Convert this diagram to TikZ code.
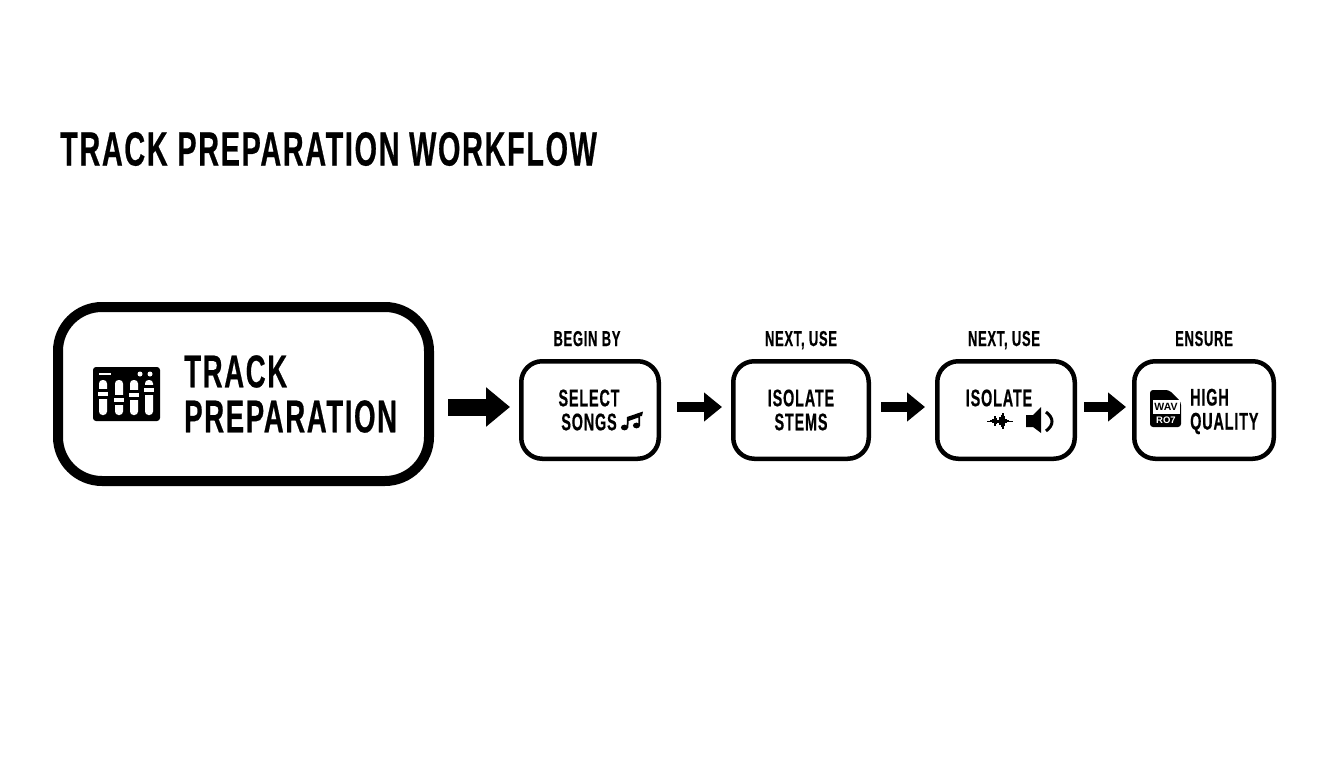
\documentclass[tikz,border=0pt]{standalone}
\usepackage{fontspec}
\usetikzlibrary{arrows.meta}
\newfontfamily\condfont[FakeStretch=0.6,LetterSpace=3.5,BoldFeatures={FakeBold=0.5}]{Liberation Sans}
\tikzset{
  bigbox/.style={draw=black,fill=white,line width=10pt,rounded corners=44pt,minimum width=371pt,minimum height=174pt,inner sep=0pt},
  stepbox/.style={draw=black,fill=white,line width=4.5pt,rounded corners=21pt,minimum height=97.5pt,inner sep=0pt},
  blockarrow/.style={-{Triangle[length=18pt,width=28pt]},line width=10pt,black},
  bigarrow/.style={-{Triangle[length=24pt,width=38pt]},line width=17pt,black},
  titletext/.style={font=\condfont\bfseries\fontsize{48}{50}\selectfont,anchor=west,inner sep=0pt},
  bigtext/.style={font=\condfont\bfseries\fontsize{46}{45}\selectfont,anchor=west,align=left,inner sep=0pt},
  boxtext/.style={font=\condfont\bfseries\fontsize{24}{24}\selectfont,align=center,inner sep=0pt},
  toptext/.style={font=\condfont\bfseries\fontsize{21.5}{22}\selectfont,anchor=base,inner sep=0pt},
}
\begin{document}
\begin{tikzpicture}[x=1pt,y=-1pt]
    \useasboundingbox (0,0) rectangle (1344,768);

    \node[titletext] (title) at (60,149) {TRACK PREPARATION WORKFLOW};

    \node[bigbox] (track) at (243.5,394) {};
    \node[stepbox,minimum width=137.5pt] (songs) at (590,410) {};
    \node[stepbox,minimum width=135.5pt] (stems) at (801,410) {};
    \node[stepbox,minimum width=137.5pt] (sound) at (1006,410) {};
    \node[stepbox,minimum width=139.5pt] (quality) at (1204,410) {};

    \node[toptext] (begin) at (587,346) {BEGIN BY};
    \node[toptext] (next1) at (801,346) {NEXT, USE};
    \node[toptext] (next2) at (1004,346) {NEXT, USE};
    \node[toptext] (ensure) at (1204,346) {ENSURE};

    \node[bigtext] (tracktext) at (184,394) {TRACK\\PREPARATION};
    \node[boxtext] (songstext) at (589,410) {SELECT\\SONGS};
    \node[boxtext] (stemstext) at (801,410) {ISOLATE\\STEMS};
    \node[boxtext] (soundtext) at (999,398) {ISOLATE};
    \node[boxtext,anchor=west,align=left] (qualitytext) at (1190,411.5) {HIGH\\QUALITY};

    \coordinate (trackout) at (448,407);
    \draw[bigarrow,shorten >=9pt] (trackout) -- ([yshift=3pt]songs.west);
    \draw[blockarrow,shorten <=16pt,shorten >=9pt] ([yshift=3pt]songs.east) -- ([yshift=3pt]stems.west);
    \draw[blockarrow,shorten <=10pt,shorten >=10pt] ([yshift=3pt]stems.east) -- ([yshift=3pt]sound.west);
    \draw[blockarrow,shorten <=7pt,shorten >=6pt] ([yshift=3pt]sound.east) -- ([yshift=3pt]quality.west);

    % mixer
    \fill[black,rounded corners=3pt] (93,367) rectangle (160,421);
    \fill[white] (99,372.5) rectangle (111,375);
    \fill[white] (140,374) circle (2.5) (150,374) circle (2.5);
    \foreach \x/\y in {103/394,119/400,134/395,149/390} {
      \fill[white,rounded corners=3.5pt] (\x-4,380) rectangle (\x+4,415);
      \fill[black] (\x-5,\y-5) rectangle (\x+5,\y+5);
      \fill[white] (\x-5,\y-2) rectangle (\x+5,\y+2);
    }

    % notes
    \fill[black] (624.5,427.5) ellipse (3.6 and 2.9) (636.5,425.5) ellipse (3.6 and 2.9);
    \fill[black] (626.6,427.5) -- (627,417) -- (643,411.5) -- (642,416) -- (640,416) -- (640,425.5) -- (638.4,425.5) -- (638.4,417.5) -- (628.6,421) -- (628.4,427.5) -- cycle;

    % wave
    \draw[black,line width=1pt] (987,421) -- (1013,421);
    \foreach \x/\h in {991/1,993/2,995/5,996.5/3,998/1.5,1000/4,1001.5/6,1003/8,1004.5/5,1006/2,1008/1} {
      \draw[black,line width=1.1pt] (\x,421-\h) -- (\x,421+\h);
    }

    % speaker
    \fill[black] (1026,415) -- (1033,415) -- (1041,407) -- (1041,433) -- (1033,427) -- (1026,427) -- cycle;
    \draw[black,line width=3pt] (1046,412) .. controls (1054,418) and (1054,425) .. (1046,431);

    % file
    \fill[black,rounded corners=3pt] (1150,390) -- (1169,390) -- (1181,402) -- (1181,427) -- (1150,427) -- cycle;
    \node[fill=white,inner sep=0pt,minimum width=27pt,minimum height=14pt,font=\fontspec{Liberation Sans}\bfseries\fontsize{10.5}{10.5}\selectfont] (wav) at (1166,407) {WAV};
    \node[text=white,inner sep=0pt,font=\fontspec{Liberation Sans}\bfseries\fontsize{9.5}{9.5}\selectfont] (ro) at (1166,420.5) {RO7};
\end{tikzpicture}
\end{document}
